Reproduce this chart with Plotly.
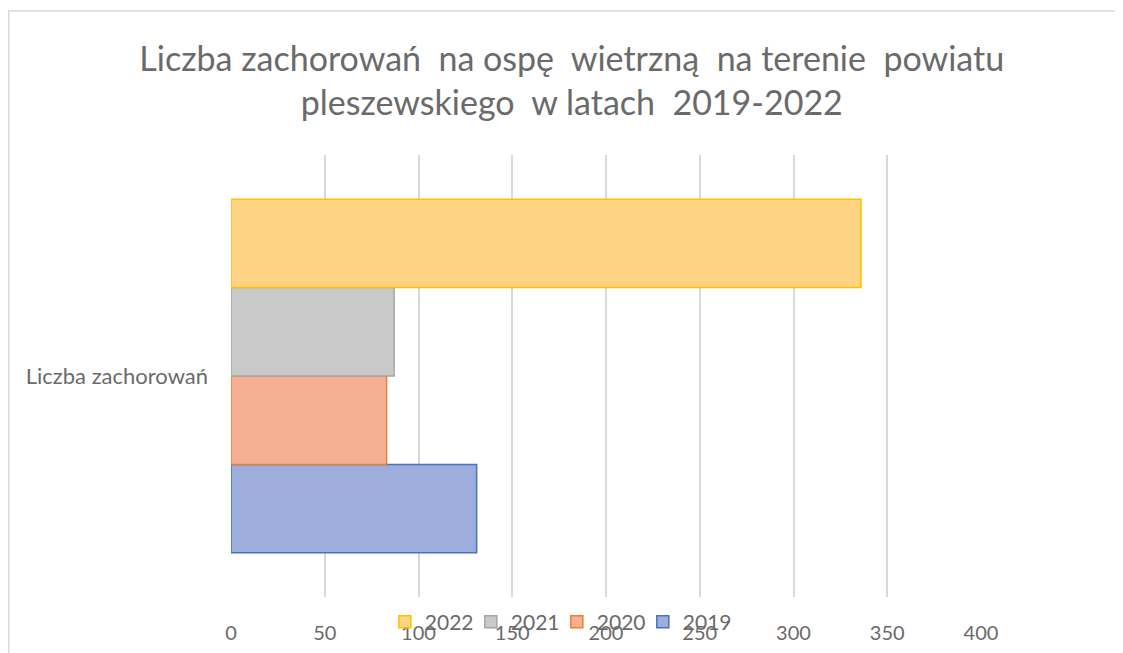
import plotly.graph_objects as go

category = ["Liczba zachorowań"]
years = ["2019", "2020", "2021", "2022"]
values = [131, 83, 87, 336]
fill_colors = ["#9DAEDD", "#F5B093", "#C9C9C9", "#FDD483"]
line_colors = ["#4472C4", "#ED7D31", "#A5A5A5", "#FFC000"]
x_ticks = [0, 50, 100, 150, 200, 250, 300, 350, 400]

NB = "\u00a0"
title_text = ("Liczba" + NB + "zachorowań" + NB + NB + "na ospę" + NB + NB + "wietrzną" + NB + NB + "na terenie" + NB + NB + "powiatu"
              + "<br>pleszewskiego" + NB + NB + "w latach" + NB + NB + "2019-2022")

fig = go.Figure()
# invisible spacer legend entry (keeps the last legend label from being clipped)
fig.add_trace(go.Scatter(x=[None], y=category, mode="markers", name=NB,
                         marker=dict(color="rgba(0,0,0,0)", size=1, line=dict(width=0)),
                         hoverinfo="skip"))
for yr, v, fc, lc in zip(years, values, fill_colors, line_colors):
    fig.add_trace(go.Bar(
        y=category, x=[v], name=yr, orientation="h",
        marker=dict(color=fc, line=dict(color=lc, width=1.5)),
    ))

FONT = "Lato"
GREY = "#6a6a6a"
L, R, T, B = 223, 150, 147, 64
PW, PH = 1123 - L - R, 653 - T - B
fig.update_layout(
    width=1123, height=653,
    paper_bgcolor="white", plot_bgcolor="white",
    margin=dict(l=L, r=R, t=T, b=B, autoexpand=False),
    barmode="group", bargap=0.2, bargroupgap=0,
    title=dict(text=title_text, x=0.502, xanchor="center", y=0.9035, yanchor="middle",
               font=dict(family=FONT, size=34, color=GREY)),
    font=dict(family=FONT, color=GREY),
    xaxis=dict(range=[0, 400], tickvals=x_ticks, showgrid=True, gridcolor="#D9D9D9", gridwidth=1.5,
               zeroline=False, showline=False, ticks="", tickfont=dict(size=20, color=GREY),
               ticklabelstandoff=22, fixedrange=True),
    yaxis=dict(type="category", showgrid=False, zeroline=False, showline=False, ticks="",
               tickfont=dict(size=22, color=GREY), ticklabelstandoff=22),
    showlegend=True,
    legend=dict(orientation="h", traceorder="reversed", x=0.527, xref="container", xanchor="center",
                y=0.0597, yref="container", yanchor="middle",
                font=dict(size=21, color=GREY), bgcolor="rgba(0,0,0,0)",
                itemwidth=30, entrywidth=41),
    shapes=[dict(type="rect", xref="paper", yref="paper",
                 x0=(0.75 - L) / PW, x1=(1140 - L) / PW,
                 y0=(PH + T - 670) / PH, y1=(PH + T - 3) / PH,
                 line=dict(color="#D9D9D9", width=1.5), fillcolor="rgba(0,0,0,0)", layer="below")],
)

fig.write_html("out.html")
